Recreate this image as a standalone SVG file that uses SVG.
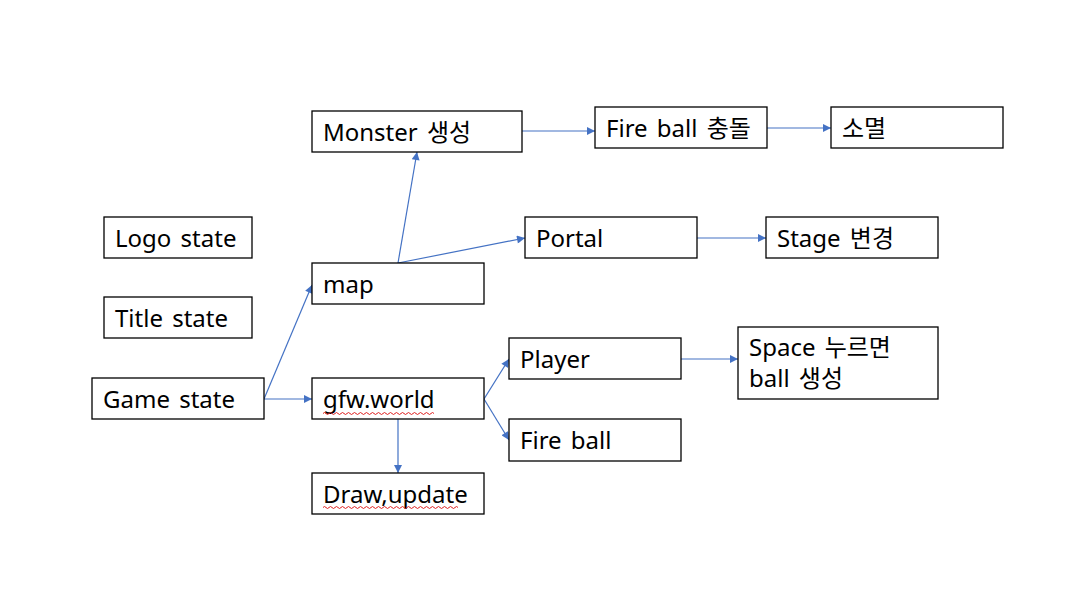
<svg xmlns="http://www.w3.org/2000/svg" width="1086" height="609" viewBox="0 0 1086 609">
<style>
.box{fill:#fff;stroke:#000;stroke-width:1.3}
.t{font-family:"Noto Sans","Noto Sans CJK KR",sans-serif;font-size:24px;fill:#000;word-spacing:3px}
.c{stroke:#4472C4;stroke-width:1.2;fill:none;marker-end:url(#ah)}
.sq{stroke:#e02020;stroke-width:1;fill:none}
</style>
<defs>
<marker id="ah" viewBox="0 0 10 10" refX="10" refY="5" markerWidth="10" markerHeight="8" markerUnits="userSpaceOnUse" orient="auto">
<path d="M0,0 L10,5 L0,10 z" fill="#4472C4"/>
</marker>
</defs>
<rect width="1086" height="609" fill="#fff"/>
<g id="connectors">
<line class="c" x1="522" y1="131" x2="595" y2="131"/>
<line class="c" x1="767" y1="128" x2="831" y2="128"/>
<line class="c" x1="398" y1="263" x2="417" y2="152"/>
<line class="c" x1="398" y1="263" x2="525" y2="238"/>
<line class="c" x1="697" y1="238" x2="766" y2="238"/>
<line class="c" x1="264" y1="399" x2="312" y2="285"/>
<line class="c" x1="264" y1="399" x2="312" y2="399"/>
<line class="c" x1="398" y1="419" x2="398" y2="473"/>
<line class="c" x1="484" y1="399" x2="509" y2="359"/>
<line class="c" x1="484" y1="399" x2="509" y2="440"/>
<line class="c" x1="681" y1="359" x2="738" y2="359"/>
</g>
<g id="monster"><rect class="box" x="312" y="111" width="210" height="41"/><text class="t" x="323" y="141">Monster 생성</text></g>
<g id="fireball-collide"><rect class="box" x="595" y="107" width="172" height="41"/><text class="t" x="606" y="137">Fire ball 충돌</text></g>
<g id="extinct"><rect class="box" x="831" y="107" width="172" height="41"/><text class="t" x="842" y="137">소멸</text></g>
<g id="logo"><rect class="box" x="104" y="217" width="148" height="41"/><text class="t" x="115" y="247">Logo state</text></g>
<g id="portal"><rect class="box" x="525" y="217" width="172" height="41"/><text class="t" x="536" y="247">Portal</text></g>
<g id="stage"><rect class="box" x="766" y="217" width="172" height="41"/><text class="t" x="777" y="247">Stage 변경</text></g>
<g id="map"><rect class="box" x="312" y="263" width="172" height="41"/><text class="t" x="323" y="293">map</text></g>
<g id="title"><rect class="box" x="104" y="297" width="148" height="41"/><text class="t" x="115" y="327">Title state</text></g>
<g id="player"><rect class="box" x="509" y="338" width="172" height="41"/><text class="t" x="520" y="368">Player</text></g>
<g id="space"><rect class="box" x="738" y="327" width="200" height="72"/><text class="t" x="749" y="356">Space 누르면</text><text class="t" x="749" y="387">ball 생성</text></g>
<g id="game"><rect class="box" x="92" y="378" width="172" height="41"/><text class="t" x="103" y="408">Game state</text></g>
<g id="gfw"><rect class="box" x="312" y="378" width="172" height="41"/><text class="t" x="323" y="408">gfw.world</text>
<path class="sq" d="M323,413.5 q1.5,-2 3,0 t3,0 t3,0 t3,0 t3,0 t3,0 t3,0 t3,0 t3,0 t3,0 t3,0 t3,0 t3,0 t3,0 t3,0 t3,0 t3,0 t3,0 t3,0 t3,0 t3,0 t3,0 t3,0 t3,0 t3,0 t3,0 t3,0 t3,0 t3,0 t3,0 t3,0 t3,0 t3,0 t3,0 t3,0 t3,0 t3,0"/></g>
<g id="fireball"><rect class="box" x="509" y="419" width="172" height="42"/><text class="t" x="520" y="449">Fire ball</text></g>
<g id="draw"><rect class="box" x="312" y="473" width="172" height="41"/><text class="t" x="323" y="503">Draw,update</text>
<path class="sq" d="M323,507.5 q1.5,-2 3,0 t3,0 t3,0 t3,0 t3,0 t3,0 t3,0 t3,0 t3,0 t3,0 t3,0 t3,0 t3,0 t3,0 t3,0 t3,0 t3,0 t3,0 t3,0 t3,0 t3,0 t3,0 t3,0 t3,0 t3,0 t3,0 t3,0 t3,0 t3,0 t3,0 t3,0 t3,0 t3,0 t3,0 t3,0 t3,0 t3,0 t3,0 t3,0 t3,0 t3,0 t3,0 t3,0 t3,0 t3,0"/></g>
</svg>
